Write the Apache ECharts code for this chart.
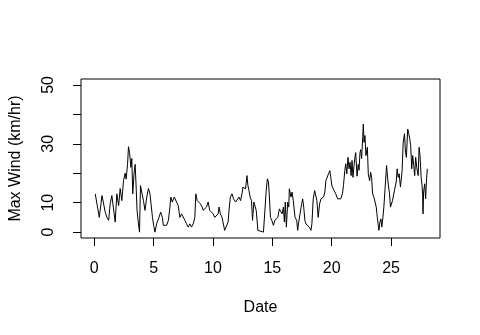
<!DOCTYPE html>
<html>
<head>
<meta charset="utf-8">
<script src="https://cdn.jsdelivr.net/npm/echarts@6/dist/echarts.min.js"></script>
<style>
  html, body { margin: 0; padding: 0; background: #fff; }
  #main { width: 480px; height: 335px; }
</style>
</head>
<body>
<div id="main"></div>
<script>
// 日期(天) 与 最大风速
var days = [
  0.08, 0.42, 0.65, 0.92, 1.06, 1.21, 1.34, 1.48, 1.63, 1.76, 1.90, 2.05, 2.18, 2.32, 2.46, 2.60,
  2.68, 2.80, 2.88, 2.97, 3.08, 3.16, 3.24, 3.35, 3.44, 3.52, 3.60, 3.72, 3.81, 3.89, 4.00, 4.14,
  4.27, 4.42, 4.56, 4.69, 4.78, 4.90, 5.00, 5.11, 5.26, 5.45, 5.59, 5.73, 5.82, 6.09, 6.24, 6.37,
  6.45, 6.57, 6.74, 6.93, 7.07, 7.21, 7.35, 7.49, 7.63, 7.77, 7.91, 8.05, 8.19, 8.33, 8.47, 8.55,
  8.67, 8.80, 8.94, 9.09, 9.17, 9.30, 9.45, 9.59, 9.72, 9.87, 10.01, 10.14, 10.28, 10.43, 10.51, 10.62,
  10.76, 10.85, 10.98, 11.12, 11.27, 11.35, 11.46, 11.60, 11.73, 11.90, 12.04, 12.19, 12.32, 12.44, 12.52, 12.66,
  12.74, 12.86, 12.94, 13.03, 13.13, 13.24, 13.33, 13.44, 13.58, 13.64, 13.78, 13.91, 14.25, 14.37, 14.48, 14.58,
  14.67, 14.75, 14.84, 14.95, 15.09, 15.21, 15.31, 15.46, 15.59, 15.73, 15.82, 15.93, 16.01, 16.09, 16.18, 16.29,
  16.38, 16.43, 16.57, 16.66, 16.76, 16.91, 17.05, 17.13, 17.22, 17.33, 17.47, 17.55, 17.64, 17.74, 17.83, 17.97,
  18.11, 18.25, 18.33, 18.44, 18.56, 18.67, 18.75, 18.86, 18.98, 19.09, 19.23, 19.31, 19.42, 19.51, 19.65, 19.73,
  19.84, 19.92, 20.01, 20.12, 20.20, 20.34, 20.49, 20.62, 20.76, 20.90, 20.99, 21.10, 21.18, 21.27, 21.37, 21.46,
  21.54, 21.63, 21.71, 21.79, 21.88, 21.94, 22.02, 22.13, 22.23, 22.30, 22.38, 22.44, 22.52, 22.61, 22.66, 22.72,
  22.80, 22.88, 23.00, 23.08, 23.19, 23.28, 23.36, 23.44, 23.55, 23.64, 23.75, 23.84, 23.92, 23.97, 24.06, 24.14,
  24.22, 24.31, 24.39, 24.53, 24.62, 24.70, 24.79, 24.87, 24.95, 25.04, 25.12, 25.23, 25.31, 25.43, 25.51, 25.60,
  25.68, 25.79, 25.87, 25.93, 26.02, 26.13, 26.21, 26.29, 26.40, 26.49, 26.57, 26.65, 26.74, 26.82, 26.91, 26.99,
  27.07, 27.16, 27.28, 27.36, 27.44, 27.53, 27.61, 27.66, 27.69, 27.74, 27.83, 27.91, 27.99, 28.05
];
var maxWind = [
  13, 5, 12.4, 6.8, 5, 4, 9.7, 12.4, 13, 3.4, 13, 9, 14.8, 10.7, 17.5, 20,
  18, 23, 29, 27, 22, 25, 13, 20, 23, 15.8, 7.4, 2.8, 0, 15.8, 15.8, 10.7,
  7.4, 11.9, 14.8, 13, 9.6, 5, 2.3, 0, 3, 5, 6.8, 5, 2.3, 2.3, 4, 8.5,
  11.9, 10.2, 11.9, 10.2, 9, 5, 6.2, 6.2, 4, 2.8, 1.7, 2.8, 1.7, 2.8, 5, 13,
  10.7, 10.2, 9.6, 8.5, 7.4, 6.8, 8.5, 10.2, 7.4, 7.4, 6.2, 5, 5, 6.2, 8.5, 6.2,
  5, 5, 0.6, 0.6, 3.4, 7.4, 11.9, 13, 11.3, 10.2, 10.7, 11.9, 10.7, 13, 15.3, 15.8,
  14.7, 19.2, 15.8, 14.1, 11.9, 10.7, 4, 10.2, 10.2, 7.4, 0.6, 0, 0, 7.4, 14.1, 18.1,
  17, 11.9, 5, 4, 2.3, 4, 4.5, 5, 7.9, 8.5, 6.2, 8.5, 3.4, 10.2, 1.7, 10.2,
  8.5, 14.7, 11.9, 13.6, 10.7, 5, 4, 0.6, 3.4, 6.2, 9.6, 11.3, 8.5, 4, 2.8, 2.3,
  1.7, 0.6, 2.8, 11.3, 14.1, 14.7, 10.7, 5, 9.6, 11.3, 11.3, 11.9, 13.6, 17.5, 18.1, 19.8,
  20.9, 18.6, 15.8, 15.8, 14.1, 13, 11.3, 11.3, 11.3, 13, 15.8, 20.9, 23.2, 19.8, 25.4, 21.5,
  23.7, 19.2, 24.3, 18.6, 22.6, 25, 27, 19, 23, 21, 27, 28, 25, 32.2, 36.7, 30.5,
  32.8, 26, 28.8, 19.8, 17.5, 20.3, 18.6, 13, 11.9, 11.3, 8.5, 5, 2.3, 0.6, 3.4, 4.5,
  1.7, 5, 8.5, 17, 22.6, 18.6, 15.3, 13, 8.5, 8.5, 10.7, 11.3, 14.7, 17, 21.5, 18.6,
  19.8, 15.3, 14.7, 20.9, 30.5, 33.4, 27.1, 25.4, 35, 33.4, 31.7, 29.4, 21.5, 26, 22.6, 19.2,
  25.4, 22, 19.2, 28.8, 26, 18.6, 15.8, 12.4, 6.2, 13.6, 16.4, 11.3, 18.1, 21.5
];
var xTicks = [0, 5, 10, 15, 20, 25];
var yTicks = [0, 10, 20, 30, 40, 50];
var yLabels = [0, 10, 30, 50];

var font = 'Liberation Sans, Arial, sans-serif';
var myChart = echarts.init(document.getElementById('main'));
myChart.setOption({
  animation: false,
  backgroundColor: '#fff',
  grid: {
    left: 79, right: 40, top: 79, bottom: 97,
    show: true, borderColor: '#000', borderWidth: 1, backgroundColor: 'transparent'
  },
  xAxis: {
    type: 'value',
    min: -1.12, max: 29.12,
    name: 'Date',
    nameLocation: 'middle',
    nameGap: 62,
    nameTextStyle: { color: '#000', fontSize: 16, fontFamily: font },
    axisLine: { show: false, onZero: false },
    axisTick: { show: true, length: 8, customValues: xTicks, lineStyle: { color: '#000' } },
    axisLabel: { customValues: xTicks, margin: 23, color: '#000', fontSize: 16, fontFamily: font },
    splitLine: { show: false }
  },
  yAxis: {
    type: 'value',
    min: -2, max: 52,
    name: 'Max Wind (km/hr)',
    nameLocation: 'middle',
    nameGap: 57,
    nameTextStyle: { color: '#000', fontSize: 16, fontFamily: font },
    axisLine: { show: false, onZero: false },
    axisTick: { show: true, length: 8, customValues: yTicks, lineStyle: { color: '#000' } },
    axisLabel: { customValues: yLabels, rotate: 90, margin: 24, color: '#000', fontSize: 16, fontFamily: font },
    splitLine: { show: false }
  },
  series: [{
    name: 'Max Wind',
    type: 'line',
    showSymbol: false,
    data: days.map(function (d, i) { return [d, maxWind[i]]; }),
    lineStyle: { color: '#000', width: 1 }
  }]
});
</script>
</body>
</html>
